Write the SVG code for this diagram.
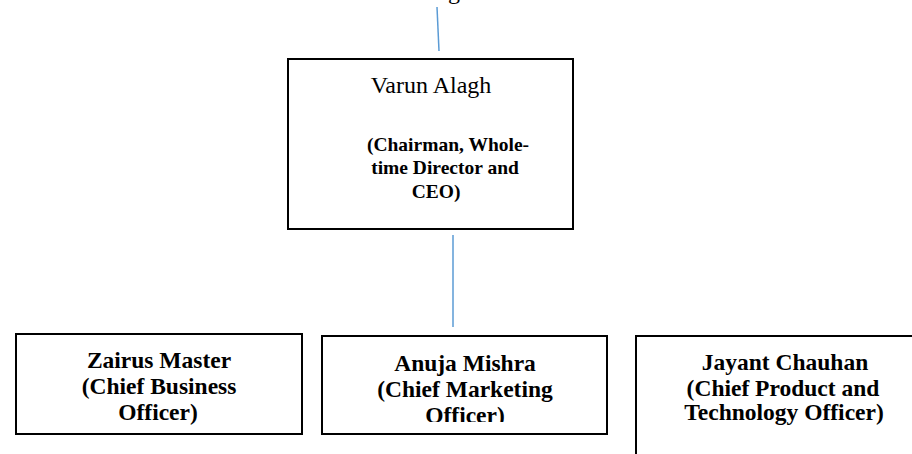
<svg xmlns="http://www.w3.org/2000/svg" width="912" height="454" viewBox="0 0 912 454">
<style>
.box{fill:#fff;stroke:#000;stroke-width:2}
.reg{font-family:"Liberation Serif","Times New Roman",serif;font-size:24px;fill:#000;text-anchor:middle}
.b1{font-family:"Liberation Serif","Times New Roman",serif;font-size:19.5px;font-weight:bold;fill:#000;text-anchor:middle}
.b2{font-family:"Liberation Serif","Times New Roman",serif;font-size:23.5px;font-weight:bold;fill:#000;text-anchor:middle}
.conn{stroke:#5b9bd5;stroke-width:1.5;fill:none}
</style>
<defs>
<clipPath id="clip2"><rect x="322" y="336" width="285" height="86"/></clipPath>
</defs>
<rect width="912" height="454" fill="#fff"/>
<text class="reg" x="454" y="-1">g</text>
<g id="connectors">
<line class="conn" x1="437" y1="7" x2="439" y2="51"/>
<line class="conn" x1="453" y1="235" x2="453" y2="327"/>
</g>
<g id="ceo">
<rect class="box" x="288" y="59" width="285" height="170"/>
<text class="reg" x="431" y="93">Varun Alagh</text>
<text class="b1" x="448" y="151">(Chairman, Whole-</text>
<text class="b1" x="445" y="174">time Director and</text>
<text class="b1" x="436" y="198">CEO)</text>
</g>
<g id="zairus">
<rect class="box" x="16" y="334" width="286" height="100"/>
<text class="b2" x="159" y="368">Zairus Master</text>
<text class="b2" x="159" y="394">(Chief Business</text>
<text class="b2" x="158" y="420">Officer)</text>
</g>
<g id="anuja">
<rect class="box" x="322" y="336" width="285" height="98"/>
<g clip-path="url(#clip2)">
<text class="b2" x="465" y="371">Anuja Mishra</text>
<text class="b2" x="465" y="397">(Chief Marketing</text>
<text class="b2" x="465" y="423">Officer)</text>
</g>
</g>
<g id="jayant">
<rect class="box" x="636" y="336" width="300" height="130"/>
<text class="b2" x="785" y="370">Jayant Chauhan</text>
<text class="b2" x="783" y="396">(Chief Product and</text>
<text class="b2" x="784" y="420">Technology Officer)</text>
</g>
</svg>
